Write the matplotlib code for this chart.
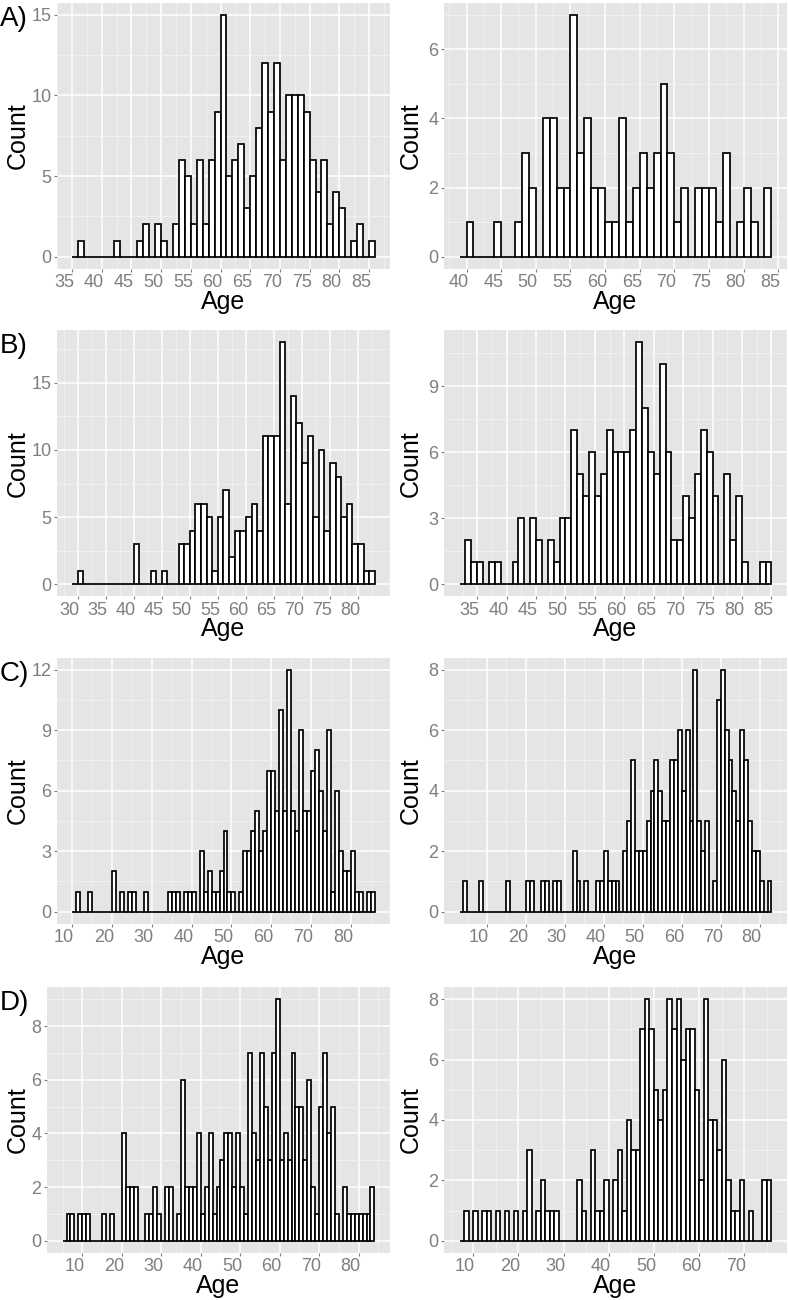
import numpy as np
import matplotlib
matplotlib.use("Agg")
import matplotlib.pyplot as plt
from matplotlib.transforms import ScaledTranslation

plt.rcParams['font.family'] = ['Liberation Sans', 'DejaVu Sans']

# Counts per 1-year bin; *_start is the left edge of the first bin
a_left_start = 35
a_left_counts = [0, 1, 0, 0, 0, 0, 0, 1, 0, 0, 0, 1, 2, 0, 2, 1, 0, 2, 6, 5,
                 2, 6, 2, 6, 9, 15, 5, 6, 7, 3, 5, 8, 12, 9, 12, 6, 10, 10, 10, 9,
                 6, 4, 6, 2, 4, 3, 0, 1, 2, 0, 1]
a_right_start = 39
a_right_counts = [0, 1, 0, 0, 0, 1, 0, 0, 1, 3, 2, 0, 4, 4, 2, 2, 7, 3, 4, 2,
                  2, 1, 1, 4, 1, 2, 3, 2, 3, 5, 3, 1, 2, 0, 2, 2, 2, 1, 3, 0,
                  1, 2, 1, 0, 2]

b_left_start = 29
b_left_counts = [0, 1, 0, 0, 0, 0, 0, 0, 0, 0, 0, 3, 0, 0, 1, 0, 1, 0, 0, 3,
                 3, 4, 6, 6, 5, 1, 5, 7, 2, 4, 4, 5, 6, 4, 11, 11, 11, 18, 6, 14,
                 12, 9, 11, 5, 10, 4, 9, 8, 5, 6, 3, 3, 1, 1]
b_right_start = 32
b_right_counts = [0, 2, 1, 1, 0, 1, 1, 0, 0, 1, 3, 0, 3, 2, 0, 2, 1, 3, 3, 7,
                  5, 4, 6, 4, 5, 7, 6, 6, 6, 7, 11, 8, 6, 5, 10, 6, 2, 2, 4, 3,
                  5, 7, 6, 4, 0, 5, 2, 4, 1, 0, 0, 1, 1]

c_left_start = 10
c_left_counts = [0, 1, 0, 0, 1, 0, 0, 0, 0, 0, 2, 0, 1, 0, 1, 1, 0, 0, 1, 0,
                 0, 0, 0, 0, 1, 1, 1, 0, 1, 1, 1, 0, 3, 1, 2, 1, 1, 2, 4, 1,
                 1, 0, 1, 3, 3, 4, 5, 3, 4, 7, 7, 5, 10, 5, 12, 5, 4, 9, 5, 5,
                 7, 8, 6, 4, 9, 1, 6, 3, 2, 2, 3, 1, 1, 0, 1, 1]
c_right_start = 3
c_right_counts = [0, 1, 0, 0, 0, 1, 0, 0, 0, 0, 0, 0, 1, 0, 0, 0, 0, 1, 1, 0,
                  0, 1, 1, 0, 1, 1, 0, 0, 0, 2, 1, 0, 1, 0, 0, 1, 1, 2, 1, 1,
                  1, 0, 2, 3, 5, 2, 2, 2, 3, 4, 5, 4, 3, 3, 5, 5, 6, 4, 6, 3,
                  8, 3, 2, 3, 0, 1, 7, 8, 6, 5, 4, 3, 6, 5, 3, 2, 2, 1, 0, 1]

d_left_start = 5
d_left_counts = [0, 1, 1, 0, 1, 1, 1, 0, 0, 0, 1, 0, 1, 0, 0, 4, 2, 2, 2, 0,
                 0, 1, 1, 2, 1, 0, 2, 2, 0, 1, 6, 2, 2, 2, 4, 1, 2, 4, 1, 2,
                 3, 4, 4, 2, 4, 2, 1, 7, 4, 3, 7, 5, 3, 7, 9, 3, 4, 3, 7, 5,
                 5, 3, 6, 2, 1, 5, 7, 4, 5, 1, 0, 2, 1, 1, 1, 1, 1, 1, 2]
d_right_start = 7
d_right_counts = [0, 1, 0, 1, 0, 1, 1, 0, 1, 0, 1, 0, 1, 0, 1, 3, 0, 1, 2, 1,
                  1, 1, 0, 0, 0, 0, 2, 1, 0, 3, 1, 1, 2, 0, 2, 3, 1, 4, 3, 3,
                  7, 8, 7, 5, 4, 5, 8, 7, 8, 6, 7, 7, 5, 2, 8, 4, 4, 3, 6, 2,
                  1, 1, 2, 0, 1, 0, 0, 2, 2]

# axis breaks
a_left_xticks = list(range(35, 90, 5))
a_right_xticks = list(range(40, 90, 5))
b_left_xticks = list(range(30, 85, 5))
b_right_xticks = list(range(35, 90, 5))
c_xticks = list(range(10, 90, 10))
d_left_xticks = list(range(10, 90, 10))
d_right_xticks = list(range(10, 80, 10))

a_left_yticks = [0, 5, 10, 15]
a_right_yticks = [0, 2, 4, 6]
b_left_yticks = [0, 5, 10, 15]
b_right_yticks = [0, 3, 6, 9]
c_left_yticks = [0, 3, 6, 9, 12]
c_right_yticks = [0, 2, 4, 6, 8]
d_yticks = [0, 2, 4, 6, 8]

row_letters = ['A)', 'B)', 'C)', 'D)']

W, H = 788, 1300
fig = plt.figure(figsize=(W / 100, H / 100), dpi=100)

# panel boxes in pixels
row_top = [2.6, 330.3, 657.6, 987.2]
row_bot = [268.8, 596.4, 923.8, 1252.8]

GREY = '#7F7F7F'
shift = ScaledTranslation(-0.08, 0, fig.dpi_scale_trans)


def minor_breaks(major, lo, hi):
    step = major[1] - major[0]
    m = np.arange(major[0] - step / 2, major[-1] + step, step)
    return m[(m >= lo) & (m <= hi)]


def hist_panel(row, x0, x1, start, counts, xticks, yticks):
    top, bot = row_top[row], row_bot[row]
    ax = fig.add_axes([x0 / W, 1 - bot / H, (x1 - x0) / W, (bot - top) / H])
    n = len(counts)
    edges = start + np.arange(n)
    ax.bar(edges, counts, width=1, align='edge', color='white',
           edgecolor='black', linewidth=1.25, zorder=3)

    # ggplot style 5% expansion
    xlo, xhi = start - 0.05 * n, start + n + 0.05 * n
    ymax = max(counts)
    ylo, yhi = -0.05 * ymax, ymax * 1.05
    ax.set_xlim(xlo, xhi)
    ax.set_ylim(ylo, yhi)

    ax.set_facecolor('#E5E5E5')
    for s in ax.spines.values():
        s.set_visible(False)
    ax.set_xticks(xticks)
    ax.set_yticks(yticks)
    ax.set_xticks(minor_breaks(xticks, xlo, xhi), minor=True)
    ax.set_yticks(minor_breaks(yticks, ylo, yhi), minor=True)
    ax.grid(which='major', color='white', linewidth=1.1)
    ax.grid(which='minor', color='#F2F2F2', linewidth=0.6)
    ax.set_axisbelow(True)
    ax.tick_params(which='major', length=2.5, width=0.8, color=GREY,
                   labelcolor=GREY, labelsize=13, pad=1.5)
    ax.tick_params(which='minor', length=0)
    # tick labels in the source sit a little left of their ticks
    for lab in ax.get_xticklabels():
        lab.set_transform(lab.get_transform() + shift)

    cx = (x0 + x1) / 2
    fig.text(cx / W, 1 - (bot + 33) / H, 'Age', ha='center', va='center', fontsize=18)
    return ax


panels = [
    (0, a_left_start, a_left_counts, a_left_xticks, a_left_yticks,
     a_right_start, a_right_counts, a_right_xticks, a_right_yticks),
    (1, b_left_start, b_left_counts, b_left_xticks, b_left_yticks,
     b_right_start, b_right_counts, b_right_xticks, b_right_yticks),
    (2, c_left_start, c_left_counts, c_xticks, c_left_yticks,
     c_right_start, c_right_counts, c_xticks, c_right_yticks),
    (3, d_left_start, d_left_counts, d_left_xticks, d_yticks,
     d_right_start, d_right_counts, d_right_xticks, d_yticks),
]

for row, ls, lc, lxt, lyt, rs, rc, rxt, ryt in panels:
    left_x0 = 47 if max(lyt) < 10 else 57
    hist_panel(row, left_x0, 390, ls, lc, lxt, lyt)
    hist_panel(row, 444, 787, rs, rc, rxt, ryt)

    mid = (row_top[row] + row_bot[row]) / 2
    fig.text(18 / W, 1 - mid / H, 'Count', rotation=90, ha='center', va='center', fontsize=18)
    fig.text(411 / W, 1 - mid / H, 'Count', rotation=90, ha='center', va='center', fontsize=18)
    fig.text(0 / W, 1 - (row_top[row] + 3) / H, row_letters[row], ha='left', va='top', fontsize=20)

fig.savefig('out.png', dpi=100)
